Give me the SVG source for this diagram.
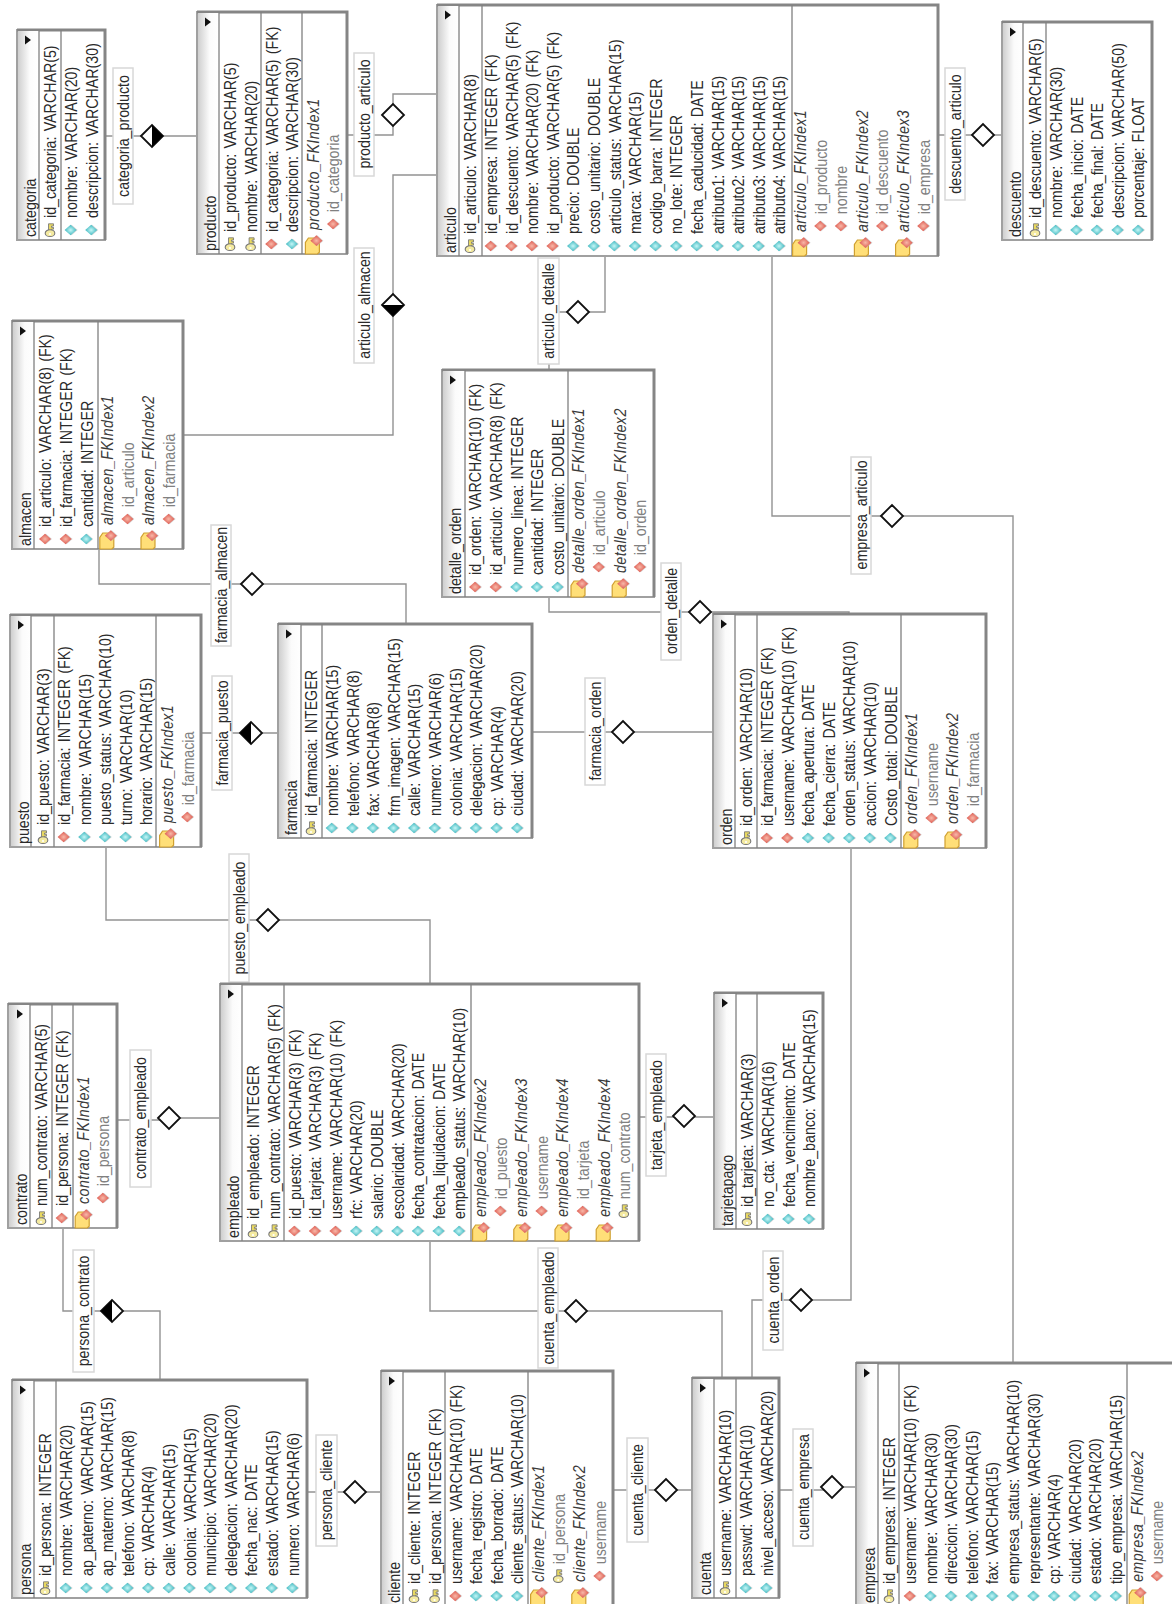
<svg xmlns="http://www.w3.org/2000/svg" width="1172" height="1604" viewBox="0 0 1172 1604">
<style>
text{font-family:"Liberation Sans",Arial,sans-serif;font-size:16px;fill:#2a2a2a;word-spacing:1.500px}
.s{fill:#808080}
.i{font-style:italic;fill:#3a3a3a;letter-spacing:.5px}
.b{fill:#fff;stroke:#a0a0a0;stroke-width:2}
.o{fill:none;stroke:#858585;stroke-width:3}
.p{stroke:#808080;stroke-width:1.3;fill:none}
.h{fill:url(#hg)}
.l{fill:none;stroke:#929292;stroke-width:1.4}
.lb{fill:#fff;stroke:#d8d8d8;stroke-width:1.5}
.lt{text-anchor:middle}
</style>
<defs>
<linearGradient id="hg" x1="0" x2="1" y1="0" y2="0"><stop offset="0" stop-color="#cfcfcf"/><stop offset=".55" stop-color="#fbfbfb"/><stop offset="1" stop-color="#fff"/></linearGradient>
<radialGradient id="cg"><stop offset="0" stop-color="#c4f6f6"/><stop offset="1" stop-color="#3fb8c0"/></radialGradient>
<radialGradient id="rg"><stop offset="0" stop-color="#f8b8a8"/><stop offset="1" stop-color="#dd5a50"/></radialGradient>
<g id="c"><path d="M-6 1L0-5 6 1 0 7Z" fill="#bbb" opacity=".6"/><path d="M-6 0L0-6 6 0 0 6Z" fill="url(#cg)"/></g>
<g id="r"><path d="M-6 1L0-5 6 1 0 7Z" fill="#bbb" opacity=".6"/><path d="M-6 0L0-6 6 0 0 6Z" fill="url(#rg)"/></g>
<g id="k"><path d="M-1-1.500H7V3.500H4.500V1.500H3V3.500H1V1.500H-1Z" fill="#e8d860" stroke="#777" stroke-width=".9"/><ellipse cx="-3.500" cy="0" rx="3.800" ry="4.800" fill="#f4eaa0" stroke="#777" stroke-width="1.100"/><circle cx="-4.500" cy="0" r="1.100" fill="#fff"/></g>
<g id="f"><path d="M0-7H13L18-4V2L16 7H2L0 5Z" fill="#ffdf78" stroke="#d0a030" stroke-width="1.2"/><use href="#r" x="15" y="4"/></g>
<path id="t" d="M-3-4.500L3 0-3 4.500Z" fill="#111"/>
<g id="d"><path d="M-11 0L0-11 11 0 0 11Z" fill="#fff" stroke="#111" stroke-width="1.8"/></g>
<g id="dr"><path d="M-11 0L0-11 11 0 0 11Z" fill="#fff" stroke="#111" stroke-width="1.8"/><path d="M0-11L11 0 0 11Z" fill="#000"/></g>
<g id="dl"><path d="M-11 0L0-11 11 0 0 11Z" fill="#fff" stroke="#111" stroke-width="1.8"/><path d="M0-11L-11 0 0 11Z" fill="#000"/></g>
<g id="db"><path d="M-11 0L0-11 11 0 0 11Z" fill="#fff" stroke="#111" stroke-width="1.8"/><path d="M-11 0L11 0 0 11Z" fill="#000"/></g>
</defs>

<g id="connectors">
<path class="l" d="M105 136H197"/>
<path class="l" d="M347 135H393V94H436"/>
<path class="l" d="M437 175H393V435H184"/>
<path class="l" d="M605 256V312H549V370"/>
<path class="l" d="M938 135H1002"/>
<path class="l" d="M772 256V516H1013V1363"/>
<path class="l" d="M99 549V584H406V624"/>
<path class="l" d="M201 733H278"/>
<path class="l" d="M532 732H713"/>
<path class="l" d="M549 597V612H849V614"/>
<path class="l" d="M106 847V920H430V984"/>
<path class="l" d="M117 1120H170V1118H220"/>
<path class="l" d="M63 1228V1311H160V1380"/>
<path class="l" d="M307 1492H381"/>
<path class="l" d="M639 1117H714"/>
<path class="l" d="M430 1241V1311H722V1378"/>
<path class="l" d="M851 848V1300H752V1378"/>
<path class="l" d="M613 1490H692"/>
<path class="l" d="M779 1490H832V1487H856"/>
<use href="#dr" x="152" y="136"/><use href="#d" x="393" y="115"/><use href="#db" x="393" y="305"/><use href="#d" x="578" y="312"/><use href="#d" x="983" y="135"/><use href="#d" x="892" y="516"/><use href="#d" x="252" y="584"/><use href="#dl" x="251" y="733"/><use href="#d" x="623" y="732"/><use href="#d" x="700" y="612"/><use href="#d" x="268" y="920"/><use href="#d" x="169" y="1118"/><use href="#dl" x="112" y="1311"/><use href="#d" x="355" y="1492"/><use href="#d" x="684" y="1116"/><use href="#d" x="576" y="1311"/><use href="#d" x="801" y="1300"/><use href="#d" x="666" y="1490"/><use href="#d" x="832" y="1487"/>
<rect class="lb" x="113" y="68" width="20" height="136"/><text class="lt" transform="translate(129,136) rotate(-90) scale(.89,1)">categoria_producto</text>
<rect class="lb" x="354" y="53" width="20" height="123"/><text class="lt" transform="translate(370,114) rotate(-90) scale(.89,1)">producto_articulo</text>
<rect class="lb" x="354" y="248" width="20" height="115"/><text class="lt" transform="translate(370,305) rotate(-90) scale(.89,1)">articulo_almacen</text>
<rect class="lb" x="538" y="258" width="21" height="106"/><text class="lt" transform="translate(554,311) rotate(-90) scale(.89,1)">articulo_detalle</text>
<rect class="lb" x="945" y="68" width="20" height="132"/><text class="lt" transform="translate(961,134) rotate(-90) scale(.89,1)">descuento_articulo</text>
<rect class="lb" x="851" y="457" width="20" height="117"/><text class="lt" transform="translate(867,515) rotate(-90) scale(.89,1)">empresa_articulo</text>
<rect class="lb" x="211" y="525" width="20" height="121"/><text class="lt" transform="translate(227,585) rotate(-90) scale(.89,1)">farmacia_almacen</text>
<rect class="lb" x="212" y="676" width="20" height="114"/><text class="lt" transform="translate(228,733) rotate(-90) scale(.89,1)">farmacia_puesto</text>
<rect class="lb" x="585" y="678" width="20" height="107"/><text class="lt" transform="translate(601,731) rotate(-90) scale(.89,1)">farmacia_orden</text>
<rect class="lb" x="661" y="563" width="20" height="97"/><text class="lt" transform="translate(677,611) rotate(-90) scale(.89,1)">orden_detalle</text>
<rect class="lb" x="229" y="854" width="20" height="128"/><text class="lt" transform="translate(245,918) rotate(-90) scale(.89,1)">puesto_empleado</text>
<rect class="lb" x="130" y="1050" width="21" height="137"/><text class="lt" transform="translate(146,1118) rotate(-90) scale(.89,1)">contrato_empleado</text>
<rect class="lb" x="73" y="1250" width="21" height="122"/><text class="lt" transform="translate(89,1311) rotate(-90) scale(.89,1)">persona_contrato</text>
<rect class="lb" x="316" y="1435" width="21" height="111"/><text class="lt" transform="translate(332,1490) rotate(-90) scale(.89,1)">persona_cliente</text>
<rect class="lb" x="646" y="1054" width="20" height="122"/><text class="lt" transform="translate(662,1115) rotate(-90) scale(.89,1)">tarjeta_empleado</text>
<rect class="lb" x="538" y="1248" width="20" height="120"/><text class="lt" transform="translate(554,1308) rotate(-90) scale(.89,1)">cuenta_empleado</text>
<rect class="lb" x="763" y="1251" width="20" height="99"/><text class="lt" transform="translate(779,1300) rotate(-90) scale(.89,1)">cuenta_orden</text>
<rect class="lb" x="627" y="1438" width="21" height="104"/><text class="lt" transform="translate(643,1490) rotate(-90) scale(.89,1)">cuenta_cliente</text>
<rect class="lb" x="793" y="1429" width="20" height="117"/><text class="lt" transform="translate(809,1487) rotate(-90) scale(.89,1)">cuenta_empresa</text>
</g>

<g id="categoria">
<rect class="b" x="17" y="30" width="88" height="210"/><path class="o" d="M17 30H105V240"/><rect class="h" x="18" y="31" width="21" height="208"/><path class="p" d="M39 30V240M61 30V240"/><use href="#t" x="28" y="40"/>
<g transform="translate(17,240) rotate(-90) scale(.89,1)">
<text x="3.400" y="19.500">categoria</text>
<use href="#k" x="11.200" y="33"/><text x="24.700" y="39.500">id_categoria: VARCHAR(5)</text>
<use href="#c" x="11.200" y="53.600"/><text x="24.700" y="60.100">nombre: VARCHAR(20)</text>
<use href="#c" x="11.200" y="74.200"/><text x="24.700" y="80.700">descripcion: VARCHAR(30)</text>
</g></g>

<g id="producto">
<rect class="b" x="197" y="12" width="150" height="242"/><path class="o" d="M197 12H347V254"/><rect class="h" x="198" y="13" width="21" height="240"/><path class="p" d="M219 12V254M261 12V254M302 12V254"/><use href="#t" x="208" y="22"/>
<g transform="translate(197,254) rotate(-90) scale(.89,1)">
<text x="3.400" y="19.500">producto</text>
<use href="#k" x="11.200" y="33"/><text x="24.700" y="39.500">id_producto: VARCHAR(5)</text>
<use href="#k" x="11.200" y="53.600"/><text x="24.700" y="60.100">nombre: VARCHAR(20)</text>
<use href="#r" x="11.200" y="74.200"/><text x="24.700" y="80.700">id_categoria: VARCHAR(5) (FK)</text>
<use href="#c" x="11.200" y="94.800"/><text x="24.700" y="101.300">descripcion: VARCHAR(30)</text>
<use href="#f" y="115.400"/><text class="i" x="27" y="121.900">producto_FKIndex1</text>
<use href="#r" x="33.700" y="136"/><text class="s" x="47" y="142.500">id_categoria</text>
</g></g>

<g id="articulo">
<rect class="b" x="437" y="5" width="501" height="251"/><path class="o" d="M437 5H938V256"/><rect class="h" x="438" y="6" width="21" height="249"/><path class="p" d="M459 5V256M482 5V256M792 5V256"/><use href="#t" x="448" y="15"/>
<g transform="translate(437,256) rotate(-90) scale(.89,1)">
<text x="3.400" y="19.500">articulo</text>
<use href="#k" x="11.200" y="33"/><text x="24.700" y="39.500">id_articulo: VARCHAR(8)</text>
<use href="#r" x="11.200" y="53.600"/><text x="24.700" y="60.100">id_empresa: INTEGER (FK)</text>
<use href="#r" x="11.200" y="74.200"/><text x="24.700" y="80.700">id_descuento: VARCHAR(5) (FK)</text>
<use href="#r" x="11.200" y="94.800"/><text x="24.700" y="101.300">nombre: VARCHAR(20) (FK)</text>
<use href="#r" x="11.200" y="115.400"/><text x="24.700" y="121.900">id_producto: VARCHAR(5) (FK)</text>
<use href="#c" x="11.200" y="136"/><text x="24.700" y="142.500">precio: DOUBLE</text>
<use href="#c" x="11.200" y="156.600"/><text x="24.700" y="163.100">costo_unitario: DOUBLE</text>
<use href="#c" x="11.200" y="177.200"/><text x="24.700" y="183.700">articulo_status: VARCHAR(15)</text>
<use href="#c" x="11.200" y="197.800"/><text x="24.700" y="204.300">marca: VARCHAR(15)</text>
<use href="#c" x="11.200" y="218.400"/><text x="24.700" y="224.900">codigo_barra: INTEGER</text>
<use href="#c" x="11.200" y="239"/><text x="24.700" y="245.500">no_lote: INTEGER</text>
<use href="#c" x="11.200" y="259.600"/><text x="24.700" y="266.100">fecha_caducidad: DATE</text>
<use href="#c" x="11.200" y="280.200"/><text x="24.700" y="286.700">atributo1: VARCHAR(15)</text>
<use href="#c" x="11.200" y="300.800"/><text x="24.700" y="307.300">atributo2: VARCHAR(15)</text>
<use href="#c" x="11.200" y="321.400"/><text x="24.700" y="327.900">atributo3: VARCHAR(15)</text>
<use href="#c" x="11.200" y="342"/><text x="24.700" y="348.500">atributo4: VARCHAR(15)</text>
<use href="#f" y="362.600"/><text class="i" x="27" y="369.100">articulo_FKIndex1</text>
<use href="#r" x="33.700" y="383.200"/><text class="s" x="47" y="389.700">id_producto</text>
<use href="#r" x="33.700" y="403.800"/><text class="s" x="47" y="410.300">nombre</text>
<use href="#f" y="424.400"/><text class="i" x="27" y="430.900">articulo_FKIndex2</text>
<use href="#r" x="33.700" y="445"/><text class="s" x="47" y="451.500">id_descuento</text>
<use href="#f" y="465.600"/><text class="i" x="27" y="472.100">articulo_FKIndex3</text>
<use href="#r" x="33.700" y="486.200"/><text class="s" x="47" y="492.700">id_empresa</text>
</g></g>

<g id="descuento">
<rect class="b" x="1002" y="22" width="150" height="218"/><path class="o" d="M1002 22H1152V240"/><rect class="h" x="1003" y="23" width="20" height="216"/><path class="p" d="M1023 22V240M1046 22V240"/><use href="#t" x="1013" y="32"/>
<g transform="translate(1002,240) rotate(-90) scale(.89,1)">
<text x="3.400" y="19.500">descuento</text>
<use href="#k" x="11.200" y="33"/><text x="24.700" y="39.500">id_descuento: VARCHAR(5)</text>
<use href="#c" x="11.200" y="53.600"/><text x="24.700" y="60.100">nombre: VARCHAR(30)</text>
<use href="#c" x="11.200" y="74.200"/><text x="24.700" y="80.700">fecha_inicio: DATE</text>
<use href="#c" x="11.200" y="94.800"/><text x="24.700" y="101.300">fecha_final: DATE</text>
<use href="#c" x="11.200" y="115.400"/><text x="24.700" y="121.900">descripcion: VARCHAR(50)</text>
<use href="#c" x="11.200" y="136"/><text x="24.700" y="142.500">porcentaje: FLOAT</text>
</g></g>

<g id="almacen">
<rect class="b" x="12" y="321" width="171" height="228"/><path class="o" d="M12 321H183V549"/><rect class="h" x="13" y="322" width="21" height="226"/><path class="p" d="M34 321V549M98 321V549"/><use href="#t" x="23" y="331"/>
<g transform="translate(12,549) rotate(-90) scale(.89,1)">
<text x="3.400" y="19.500">almacen</text>
<use href="#r" x="11.200" y="33"/><text x="24.700" y="39.500">id_articulo: VARCHAR(8) (FK)</text>
<use href="#r" x="11.200" y="53.600"/><text x="24.700" y="60.100">id_farmacia: INTEGER (FK)</text>
<use href="#c" x="11.200" y="74.200"/><text x="24.700" y="80.700">cantidad: INTEGER</text>
<use href="#f" y="94.800"/><text class="i" x="27" y="101.300">almacen_FKIndex1</text>
<use href="#r" x="33.700" y="115.400"/><text class="s" x="47" y="121.900">id_articulo</text>
<use href="#f" y="136"/><text class="i" x="27" y="142.500">almacen_FKIndex2</text>
<use href="#r" x="33.700" y="156.600"/><text class="s" x="47" y="163.100">id_farmacia</text>
</g></g>

<g id="puesto">
<rect class="b" x="10" y="615" width="191" height="232"/><path class="o" d="M10 615H201V847"/><rect class="h" x="11" y="616" width="20" height="230"/><path class="p" d="M31 615V847M54 615V847M156 615V847"/><use href="#t" x="21" y="625"/>
<g transform="translate(10,847) rotate(-90) scale(.89,1)">
<text x="3.400" y="19.500">puesto</text>
<use href="#k" x="11.200" y="33"/><text x="24.700" y="39.500">id_puesto: VARCHAR(3)</text>
<use href="#r" x="11.200" y="53.600"/><text x="24.700" y="60.100">id_farmacia: INTEGER (FK)</text>
<use href="#c" x="11.200" y="74.200"/><text x="24.700" y="80.700">nombre: VARCHAR(15)</text>
<use href="#c" x="11.200" y="94.800"/><text x="24.700" y="101.300">puesto_status: VARCHAR(10)</text>
<use href="#c" x="11.200" y="115.400"/><text x="24.700" y="121.900">turno: VARCHAR(10)</text>
<use href="#c" x="11.200" y="136"/><text x="24.700" y="142.500">horario: VARCHAR(15)</text>
<use href="#f" y="156.600"/><text class="i" x="27" y="163.100">puesto_FKIndex1</text>
<use href="#r" x="33.700" y="177.200"/><text class="s" x="47" y="183.700">id_farmacia</text>
</g></g>

<g id="farmacia">
<rect class="b" x="278" y="624" width="254" height="214"/><path class="o" d="M278 624H532V838"/><rect class="h" x="279" y="625" width="22" height="212"/><path class="p" d="M301 624V838M322 624V838"/><use href="#t" x="289" y="634"/>
<g transform="translate(278,838) rotate(-90) scale(.89,1)">
<text x="3.400" y="19.500">farmacia</text>
<use href="#k" x="11.200" y="33"/><text x="24.700" y="39.500">id_farmacia: INTEGER</text>
<use href="#c" x="11.200" y="53.600"/><text x="24.700" y="60.100">nombre: VARCHAR(15)</text>
<use href="#c" x="11.200" y="74.200"/><text x="24.700" y="80.700">telefono: VARCHAR(8)</text>
<use href="#c" x="11.200" y="94.800"/><text x="24.700" y="101.300">fax: VARCHAR(8)</text>
<use href="#c" x="11.200" y="115.400"/><text x="24.700" y="121.900">frm_imagen: VARCHAR(15)</text>
<use href="#c" x="11.200" y="136"/><text x="24.700" y="142.500">calle: VARCHAR(15)</text>
<use href="#c" x="11.200" y="156.600"/><text x="24.700" y="163.100">numero: VARCHAR(6)</text>
<use href="#c" x="11.200" y="177.200"/><text x="24.700" y="183.700">colonia: VARCHAR(15)</text>
<use href="#c" x="11.200" y="197.800"/><text x="24.700" y="204.300">delegacion: VARCHAR(20)</text>
<use href="#c" x="11.200" y="218.400"/><text x="24.700" y="224.900">cp: VARCHAR(4)</text>
<use href="#c" x="11.200" y="239"/><text x="24.700" y="245.500">ciudad: VARCHAR(20)</text>
</g></g>

<g id="detalle_orden">
<rect class="b" x="442" y="370" width="212" height="227"/><path class="o" d="M442 370H654V597"/><rect class="h" x="443" y="371" width="22" height="225"/><path class="p" d="M465 370V597M568 370V597"/><use href="#t" x="453" y="380"/>
<g transform="translate(442,597) rotate(-90) scale(.89,1)">
<text x="3.400" y="19.500">detalle_orden</text>
<use href="#r" x="11.200" y="33"/><text x="24.700" y="39.500">id_orden: VARCHAR(10) (FK)</text>
<use href="#r" x="11.200" y="53.600"/><text x="24.700" y="60.100">id_articulo: VARCHAR(8) (FK)</text>
<use href="#c" x="11.200" y="74.200"/><text x="24.700" y="80.700">numero_linea: INTEGER</text>
<use href="#c" x="11.200" y="94.800"/><text x="24.700" y="101.300">cantidad: INTEGER</text>
<use href="#c" x="11.200" y="115.400"/><text x="24.700" y="121.900">costo_unitario: DOUBLE</text>
<use href="#f" y="136"/><text class="i" x="27" y="142.500">detalle_orden_FKIndex1</text>
<use href="#r" x="33.700" y="156.600"/><text class="s" x="47" y="163.100">id_articulo</text>
<use href="#f" y="177.200"/><text class="i" x="27" y="183.700">detalle_orden_FKIndex2</text>
<use href="#r" x="33.700" y="197.800"/><text class="s" x="47" y="204.300">id_orden</text>
</g></g>

<g id="orden">
<rect class="b" x="713" y="614" width="273" height="234"/><path class="o" d="M713 614H986V848"/><rect class="h" x="714" y="615" width="21" height="232"/><path class="p" d="M735 614V848M757 614V848M901 614V848"/><use href="#t" x="724" y="624"/>
<g transform="translate(713,848) rotate(-90) scale(.89,1)">
<text x="3.400" y="19.500">orden</text>
<use href="#k" x="11.200" y="33"/><text x="24.700" y="39.500">id_orden: VARCHAR(10)</text>
<use href="#r" x="11.200" y="53.600"/><text x="24.700" y="60.100">id_farmacia: INTEGER (FK)</text>
<use href="#r" x="11.200" y="74.200"/><text x="24.700" y="80.700">username: VARCHAR(10) (FK)</text>
<use href="#c" x="11.200" y="94.800"/><text x="24.700" y="101.300">fecha_apertura: DATE</text>
<use href="#c" x="11.200" y="115.400"/><text x="24.700" y="121.900">fecha_cierra: DATE</text>
<use href="#c" x="11.200" y="136"/><text x="24.700" y="142.500">orden_status: VARCHAR(10)</text>
<use href="#c" x="11.200" y="156.600"/><text x="24.700" y="163.100">accion: VARCHAR(10)</text>
<use href="#c" x="11.200" y="177.200"/><text x="24.700" y="183.700">Costo_total: DOUBLE</text>
<use href="#f" y="197.800"/><text class="i" x="27" y="204.300">orden_FKIndex1</text>
<use href="#r" x="33.700" y="218.400"/><text class="s" x="47" y="224.900">username</text>
<use href="#f" y="239"/><text class="i" x="27" y="245.500">orden_FKIndex2</text>
<use href="#r" x="33.700" y="259.600"/><text class="s" x="47" y="266.100">id_farmacia</text>
</g></g>

<g id="contrato">
<rect class="b" x="8" y="1004" width="109" height="224"/><path class="o" d="M8 1004H117V1228"/><rect class="h" x="9" y="1005" width="21" height="222"/><path class="p" d="M30 1004V1228M52 1004V1228M73 1004V1228"/><use href="#t" x="20" y="1014"/>
<g transform="translate(8,1228) rotate(-90) scale(.89,1)">
<text x="3.400" y="19.500">contrato</text>
<use href="#k" x="11.200" y="33"/><text x="24.700" y="39.500">num_contrato: VARCHAR(5)</text>
<use href="#r" x="11.200" y="53.600"/><text x="24.700" y="60.100">id_persona: INTEGER (FK)</text>
<use href="#f" y="74.200"/><text class="i" x="27" y="80.700">contrato_FKIndex1</text>
<use href="#r" x="33.700" y="94.800"/><text class="s" x="47" y="101.300">id_persona</text>
</g></g>

<g id="empleado">
<rect class="b" x="220" y="984" width="419" height="257"/><path class="o" d="M220 984H639V1241"/><rect class="h" x="221" y="985" width="21" height="255"/><path class="p" d="M242 984V1241M284 984V1241M471 984V1241"/><use href="#t" x="231" y="994"/>
<g transform="translate(220,1241) rotate(-90) scale(.89,1)">
<text x="3.400" y="19.500">empleado</text>
<use href="#k" x="11.200" y="33"/><text x="24.700" y="39.500">id_empleado: INTEGER</text>
<use href="#k" x="11.200" y="53.600"/><text x="24.700" y="60.100">num_contrato: VARCHAR(5) (FK)</text>
<use href="#r" x="11.200" y="74.200"/><text x="24.700" y="80.700">id_puesto: VARCHAR(3) (FK)</text>
<use href="#r" x="11.200" y="94.800"/><text x="24.700" y="101.300">id_tarjeta: VARCHAR(3) (FK)</text>
<use href="#r" x="11.200" y="115.400"/><text x="24.700" y="121.900">username: VARCHAR(10) (FK)</text>
<use href="#c" x="11.200" y="136"/><text x="24.700" y="142.500">rfc: VARCHAR(20)</text>
<use href="#c" x="11.200" y="156.600"/><text x="24.700" y="163.100">salario: DOUBLE</text>
<use href="#c" x="11.200" y="177.200"/><text x="24.700" y="183.700">escolaridad: VARCHAR(20)</text>
<use href="#c" x="11.200" y="197.800"/><text x="24.700" y="204.300">fecha_contratacion: DATE</text>
<use href="#c" x="11.200" y="218.400"/><text x="24.700" y="224.900">fecha_liquidacion: DATE</text>
<use href="#c" x="11.200" y="239"/><text x="24.700" y="245.500">empleado_status: VARCHAR(10)</text>
<use href="#f" y="259.600"/><text class="i" x="27" y="266.100">empleado_FKIndex2</text>
<use href="#r" x="33.700" y="280.200"/><text class="s" x="47" y="286.700">id_puesto</text>
<use href="#f" y="300.800"/><text class="i" x="27" y="307.300">empleado_FKIndex3</text>
<use href="#r" x="33.700" y="321.400"/><text class="s" x="47" y="327.900">username</text>
<use href="#f" y="342"/><text class="i" x="27" y="348.500">empleado_FKIndex4</text>
<use href="#r" x="33.700" y="362.600"/><text class="s" x="47" y="369.100">id_tarjeta</text>
<use href="#f" y="383.200"/><text class="i" x="27" y="389.700">empleado_FKIndex4</text>
<use href="#k" x="33.700" y="403.800"/><text class="s" x="47" y="410.300">num_contrato</text>
</g></g>

<g id="tarjetapago">
<rect class="b" x="714" y="993" width="109" height="236"/><path class="o" d="M714 993H823V1229"/><rect class="h" x="715" y="994" width="21" height="234"/><path class="p" d="M736 993V1229M757 993V1229"/><use href="#t" x="725" y="1003"/>
<g transform="translate(714,1229) rotate(-90) scale(.89,1)">
<text x="3.400" y="19.500">tarjetapago</text>
<use href="#k" x="11.200" y="33"/><text x="24.700" y="39.500">id_tarjeta: VARCHAR(3)</text>
<use href="#c" x="11.200" y="53.600"/><text x="24.700" y="60.100">no_cta: VARCHAR(16)</text>
<use href="#c" x="11.200" y="74.200"/><text x="24.700" y="80.700">fecha_vencimiento: DATE</text>
<use href="#c" x="11.200" y="94.800"/><text x="24.700" y="101.300">nombre_banco: VARCHAR(15)</text>
</g></g>

<g id="persona">
<rect class="b" x="12" y="1380" width="295" height="218"/><path class="o" d="M12 1380H307V1598"/><rect class="h" x="13" y="1381" width="21" height="216"/><path class="p" d="M34 1380V1598M56 1380V1598"/><use href="#t" x="23" y="1390"/>
<g transform="translate(12,1598) rotate(-90) scale(.89,1)">
<text x="3.400" y="19.500">persona</text>
<use href="#k" x="11.200" y="33"/><text x="24.700" y="39.500">id_persona: INTEGER</text>
<use href="#c" x="11.200" y="53.600"/><text x="24.700" y="60.100">nombre: VARCHAR(20)</text>
<use href="#c" x="11.200" y="74.200"/><text x="24.700" y="80.700">ap_paterno: VARCHAR(15)</text>
<use href="#c" x="11.200" y="94.800"/><text x="24.700" y="101.300">ap_materno: VARCHAR(15)</text>
<use href="#c" x="11.200" y="115.400"/><text x="24.700" y="121.900">telefono: VARCHAR(8)</text>
<use href="#c" x="11.200" y="136"/><text x="24.700" y="142.500">cp: VARCHAR(4)</text>
<use href="#c" x="11.200" y="156.600"/><text x="24.700" y="163.100">calle: VARCHAR(15)</text>
<use href="#c" x="11.200" y="177.200"/><text x="24.700" y="183.700">colonia: VARCHAR(15)</text>
<use href="#c" x="11.200" y="197.800"/><text x="24.700" y="204.300">municipio: VARCHAR(20)</text>
<use href="#c" x="11.200" y="218.400"/><text x="24.700" y="224.900">delegacion: VARCHAR(20)</text>
<use href="#c" x="11.200" y="239"/><text x="24.700" y="245.500">fecha_nac: DATE</text>
<use href="#c" x="11.200" y="259.600"/><text x="24.700" y="266.100">estado: VARCHAR(15)</text>
<use href="#c" x="11.200" y="280.200"/><text x="24.700" y="286.700">numero: VARCHAR(6)</text>
</g></g>

<g id="cliente">
<rect class="b" x="381" y="1371" width="232" height="240"/><path class="o" d="M381 1371H613V1611"/><rect class="h" x="382" y="1372" width="21" height="238"/><path class="p" d="M403 1371V1611M445 1371V1611M528 1371V1611"/><use href="#t" x="392" y="1381"/>
<g transform="translate(381,1606) rotate(-90) scale(.89,1)">
<text x="3.400" y="19.500">cliente</text>
<use href="#k" x="11.200" y="33"/><text x="24.700" y="39.500">id_cliente: INTEGER</text>
<use href="#k" x="11.200" y="53.600"/><text x="24.700" y="60.100">id_persona: INTEGER (FK)</text>
<use href="#r" x="11.200" y="74.200"/><text x="24.700" y="80.700">username: VARCHAR(10) (FK)</text>
<use href="#c" x="11.200" y="94.800"/><text x="24.700" y="101.300">fecha_registro: DATE</text>
<use href="#c" x="11.200" y="115.400"/><text x="24.700" y="121.900">fecha_borrado: DATE</text>
<use href="#c" x="11.200" y="136"/><text x="24.700" y="142.500">cliente_status: VARCHAR(10)</text>
<use href="#f" y="156.600"/><text class="i" x="27" y="163.100">cliente_FKIndex1</text>
<use href="#k" x="33.700" y="177.200"/><text class="s" x="47" y="183.700">id_persona</text>
<use href="#f" y="197.800"/><text class="i" x="27" y="204.300">cliente_FKIndex2</text>
<use href="#r" x="33.700" y="218.400"/><text class="s" x="47" y="224.900">username</text>
</g></g>

<g id="cuenta">
<rect class="b" x="692" y="1378" width="87" height="220"/><path class="o" d="M692 1378H779V1598"/><rect class="h" x="693" y="1379" width="21" height="218"/><path class="p" d="M714 1378V1598M736 1378V1598"/><use href="#t" x="703" y="1388"/>
<g transform="translate(692,1598) rotate(-90) scale(.89,1)">
<text x="3.400" y="19.500">cuenta</text>
<use href="#k" x="11.200" y="33"/><text x="24.700" y="39.500">username: VARCHAR(10)</text>
<use href="#c" x="11.200" y="53.600"/><text x="24.700" y="60.100">passwd: VARCHAR(10)</text>
<use href="#c" x="11.200" y="74.200"/><text x="24.700" y="80.700">nivel_acceso: VARCHAR(20)</text>
</g></g>

<g id="empresa">
<rect class="b" x="856" y="1363" width="330" height="250"/><path class="o" d="M856 1363H1186"/><rect class="h" x="857" y="1364" width="21" height="248"/><path class="p" d="M878 1363V1613M899 1363V1613M1127 1363V1613"/><use href="#t" x="867" y="1373"/>
<g transform="translate(856,1606) rotate(-90) scale(.89,1)">
<text x="3.400" y="19.500">empresa</text>
<use href="#k" x="11.200" y="33"/><text x="24.700" y="39.500">id_empresa: INTEGER</text>
<use href="#r" x="11.200" y="53.600"/><text x="24.700" y="60.100">username: VARCHAR(10) (FK)</text>
<use href="#c" x="11.200" y="74.200"/><text x="24.700" y="80.700">nombre: VARCHAR(30)</text>
<use href="#c" x="11.200" y="94.800"/><text x="24.700" y="101.300">direccion: VARCHAR(30)</text>
<use href="#c" x="11.200" y="115.400"/><text x="24.700" y="121.900">telefono: VARCHAR(15)</text>
<use href="#c" x="11.200" y="136"/><text x="24.700" y="142.500">fax: VARCHAR(15)</text>
<use href="#c" x="11.200" y="156.600"/><text x="24.700" y="163.100">empresa_status: VARCHAR(10)</text>
<use href="#c" x="11.200" y="177.200"/><text x="24.700" y="183.700">representante: VARCHAR(30)</text>
<use href="#c" x="11.200" y="197.800"/><text x="24.700" y="204.300">cp: VARCHAR(4)</text>
<use href="#c" x="11.200" y="218.400"/><text x="24.700" y="224.900">ciudad: VARCHAR(20)</text>
<use href="#c" x="11.200" y="239"/><text x="24.700" y="245.500">estado: VARCHAR(20)</text>
<use href="#c" x="11.200" y="259.600"/><text x="24.700" y="266.100">tipo_empresa: VARCHAR(15)</text>
<use href="#f" y="280.200"/><text class="i" x="27" y="286.700">empresa_FKIndex2</text>
<use href="#r" x="33.700" y="300.800"/><text class="s" x="47" y="307.300">username</text>
</g></g>
</svg>
